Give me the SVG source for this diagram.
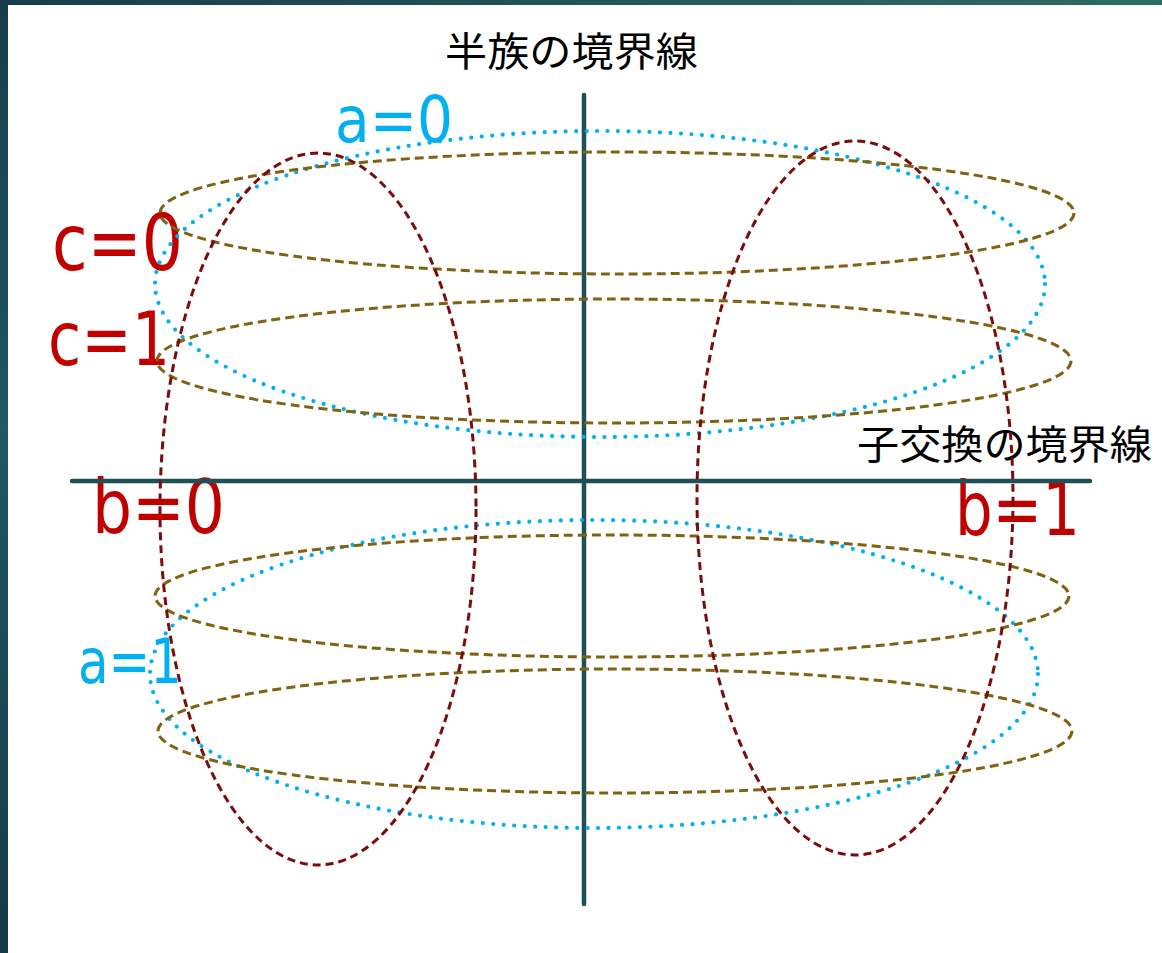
<svg xmlns="http://www.w3.org/2000/svg" width="1162" height="953" viewBox="0 0 1162 953">
<defs>
<linearGradient id="gTop" x1="0" y1="0" x2="1" y2="0">
<stop offset="0" stop-color="#163d4c"/>
<stop offset="1" stop-color="#306c63"/>
</linearGradient>
<linearGradient id="gLeft" x1="0" y1="0" x2="0" y2="1">
<stop offset="0" stop-color="#163d4c"/>
<stop offset="0.45" stop-color="#1f5764"/>
<stop offset="1" stop-color="#153a48"/>
</linearGradient>
<style>
.axis{stroke:#1f4f57;stroke-width:4.5;stroke-linecap:round;fill:none}
.blue{fill:none;stroke:#00b0f0;stroke-width:4.2;stroke-dasharray:0 10.5;stroke-linecap:round}
.olive{fill:none;stroke:#7f6310;stroke-width:3;stroke-dasharray:9 5}
.red{fill:none;stroke:#7b0c0c;stroke-width:3;stroke-dasharray:8 5}
.jp{font-family:"Noto Sans CJK JP","Noto Sans",sans-serif;font-size:40px;fill:#000}
.lbl{font-family:"DejaVu Sans","Liberation Sans",sans-serif;font-weight:normal}
.lr{fill:#c00000}
.lb{fill:#00b0f0}
</style>
</defs>
<rect x="0" y="0" width="1162" height="953" fill="#ffffff"/>
<rect x="0" y="0" width="1162" height="5" fill="url(#gTop)"/>
<rect x="0" y="0" width="8" height="953" fill="url(#gLeft)"/>

<g id="labels">
<text id="t-half" class="jp" x="445" y="66" textLength="253" lengthAdjust="spacingAndGlyphs">半族の境界線</text>
<text id="t-child" class="jp" x="857" y="459" textLength="295" lengthAdjust="spacingAndGlyphs">子交換の境界線</text>
<text id="t-a0" class="lbl lb" x="335" y="142" font-size="64" textLength="118" lengthAdjust="spacingAndGlyphs">a=0</text>
<text id="t-a1" class="lbl lb" x="78" y="683" font-size="62" textLength="104" lengthAdjust="spacingAndGlyphs">a=1</text>
<text id="t-c0" class="lbl lr" x="52" y="270" font-size="78" textLength="131" lengthAdjust="spacingAndGlyphs">c=0</text>
<text id="t-c1" class="lbl lr" x="48" y="365" font-size="74" textLength="122" lengthAdjust="spacingAndGlyphs">c=1</text>
<text id="t-b0" class="lbl lr" x="92" y="533" font-size="74" textLength="133" lengthAdjust="spacingAndGlyphs">b=0</text>
<text id="t-b1" class="lbl lr" x="955" y="535" font-size="74" textLength="125" lengthAdjust="spacingAndGlyphs">b=1</text>
</g>

<g id="connectors">
<line id="axis-v" class="axis" x1="584" y1="95" x2="584" y2="904"/>
<line id="axis-h" class="axis" x1="72" y1="481" x2="1090" y2="481"/>
</g>

<g id="a0"><ellipse class="blue" cx="600" cy="284" rx="445" ry="153"/></g>
<g id="a1"><ellipse class="blue" cx="594" cy="674" rx="444" ry="154"/></g>
<g id="c0-top"><ellipse class="olive" cx="617" cy="213" rx="457" ry="61"/></g>
<g id="c1-top"><ellipse class="olive" cx="614" cy="361" rx="457" ry="62"/></g>
<g id="c0-bottom"><ellipse class="olive" cx="612" cy="596" rx="457" ry="61"/></g>
<g id="c1-bottom"><ellipse class="olive" cx="615" cy="731" rx="457" ry="62"/></g>
<g id="b0"><ellipse class="red" cx="318" cy="509" rx="158" ry="356"/></g>
<g id="b1"><ellipse class="red" cx="855" cy="498" rx="158" ry="357"/></g>
</svg>
